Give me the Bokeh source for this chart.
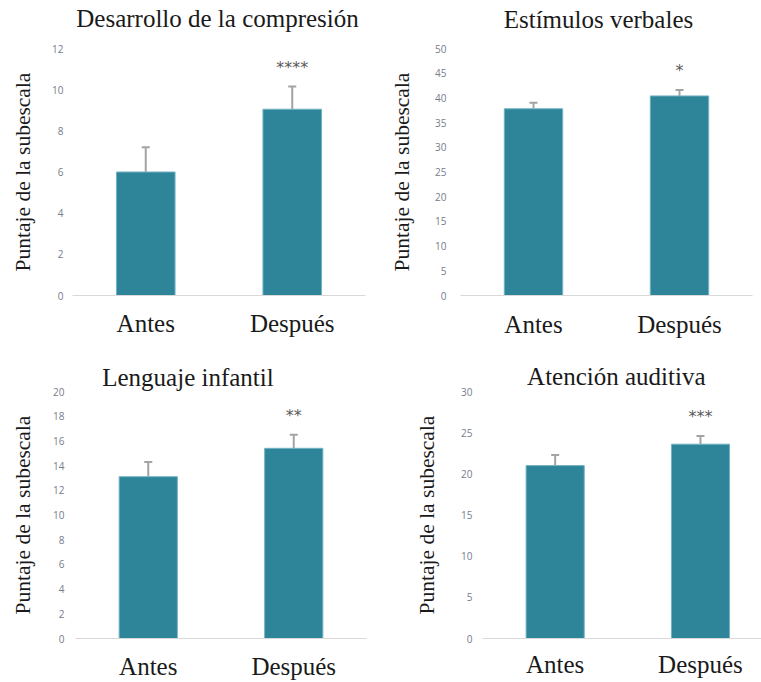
from bokeh.plotting import figure
from bokeh.layouts import column, row
from bokeh.models import (ColumnDataSource, Whisker, TeeHead, FixedTicker,
                          Range1d, LinearAxis)
from bokeh.core.properties import value
from bokeh.embed import file_html
from bokeh.resources import INLINE

# ---------------- data ----------------
categories = ["Antes", "Después"]

titles = ["Desarrollo de la compresión", "Estímulos verbales",
          "Lenguaje infantil", "Atención auditiva"]

means_comprension = [6.0, 9.05]
errors_comprension = [1.2, 1.1]

means_estimulos = [37.8, 40.4]
errors_estimulos = [1.2, 1.2]

means_lenguaje = [13.1, 15.4]
errors_lenguaje = [1.2, 1.1]

means_atencion = [21.0, 23.6]
errors_atencion = [1.3, 1.0]

significance = ["****", "*", "**", "***"]

yticks_comprension = [0, 2, 4, 6, 8, 10, 12]
yticks_estimulos = [0, 5, 10, 15, 20, 25, 30, 35, 40, 45, 50]
yticks_lenguaje = [0, 2, 4, 6, 8, 10, 12, 14, 16, 18, 20]
yticks_atencion = [0, 5, 10, 15, 20, 25, 30]

ylabel = "Puntaje de la subescala"

# ---------------- style ----------------
BAR = "#2e8498"
BAR_EDGE = "#72b3c4"
ERR = "#a3a3a3"
SERIF = "Liberation Serif"


def panel(title, means, errors, stars, yticks, width, height, borders, xend,
          title_x, title_standoff, ylab_standoff, tick_standoff, xlab_standoff):
    left, right, top, bottom = borders
    xs = [i + 1 for i in range(len(categories))]
    p = figure(width=width, height=height, output_backend="svg",
               toolbar_location=None, tools="",
               x_range=Range1d(0.5, xend), y_range=Range1d(yticks[0], yticks[-1]),
               min_border_left=left, min_border_right=right,
               min_border_top=top, min_border_bottom=bottom)
    p.outline_line_color = None
    p.background_fill_color = "white"
    p.border_fill_color = "white"
    p.xgrid.grid_line_color = None
    p.ygrid.grid_line_color = None

    upper = [m + e for m, e in zip(means, errors)]
    src = ColumnDataSource(dict(x=xs, mean=means, upper=upper,
                                stars=["", stars]))
    p.vbar(x="x", top="mean", bottom=0, width=0.4, source=src,
           fill_color=BAR, line_color=BAR_EDGE, line_width=1)
    w = Whisker(base="x", lower="mean", upper="upper", source=src,
                line_color=ERR, line_width=2, level="glyph",
                upper_head=TeeHead(size=8, line_color=ERR, line_width=2),
                lower_head=None)
    p.add_layout(w)
    p.text(x="x", y="upper", text="stars", source=src, y_offset=-19,
           text_align="center", text_baseline="middle",
           text_font=value("DejaVu Sans"), text_font_size="16px",
           text_color="#5a5a5a")

    # x axis (below)
    xa = p.below[0]
    xa.ticker = FixedTicker(ticks=xs)
    xa.major_label_overrides = {x: c for x, c in zip(xs, categories)}
    xa.major_label_text_font = SERIF
    xa.major_label_text_font_size = "25px"
    xa.major_label_text_color = "#1a1a1a"
    xa.axis_line_color = "#d9d9d9"
    xa.axis_line_width = 1
    xa.major_tick_line_color = None
    xa.minor_tick_line_color = None
    xa.major_tick_out = 0
    xa.major_tick_in = 0
    xa.minor_tick_out = 0
    xa.major_label_standoff = xlab_standoff

    # y axis
    ya = p.left[0]
    ya.ticker = FixedTicker(ticks=yticks)
    ya.axis_line_color = None
    ya.major_tick_line_color = None
    ya.minor_tick_line_color = None
    ya.major_tick_out = 0
    ya.major_tick_in = 0
    ya.minor_tick_out = 0
    ya.major_label_text_font = "Open Sans"
    ya.major_label_text_font_size = "10px"
    ya.major_label_text_color = "#767c8a"
    ya.major_label_standoff = tick_standoff
    ya.axis_label = ylabel
    ya.axis_label_text_font = SERIF
    ya.axis_label_text_font_size = "21.5px"
    ya.axis_label_text_font_style = "normal"
    ya.axis_label_text_color = "#1a1a1a"
    ya.axis_label_standoff = ylab_standoff

    # title: a label-only axis above the frame
    ta = LinearAxis(ticker=FixedTicker(ticks=[title_x]),
                    major_label_overrides={title_x: title})
    ta.axis_line_color = None
    ta.major_tick_line_color = None
    ta.minor_tick_line_color = None
    ta.major_tick_out = 0
    ta.major_tick_in = 0
    ta.minor_tick_out = 0
    ta.major_label_standoff = title_standoff
    ta.major_label_text_font = SERIF
    ta.major_label_text_font_size = "25px"
    ta.major_label_text_color = "#1a1a1a"
    p.add_layout(ta, "above")
    return p


p1 = panel(titles[0], means_comprension, errors_comprension, significance[0],
           yticks_comprension, 380, 340, (72, 15, 48, 43), 2.5,
           1.49, 17, 14, 9, 14)
p2 = panel(titles[1], means_estimulos, errors_estimulos, significance[1],
           yticks_estimulos, 381, 340, (80, 9, 47, 44), 2.5,
           1.445, 16, 18, 14, 15)
p3 = panel(titles[2], means_lenguaje, errors_lenguaje, significance[2],
           yticks_lenguaje, 380, 342, (75, 14, 49, 43), 2.5,
           1.273, 1, 15, 11, 14)
p4 = panel(titles[3], means_atencion, errors_atencion, significance[3],
           yticks_atencion, 381, 342, (102, 0, 51, 41), 2.42,
           1.421, 2, 19, 10, 12)

layout = column(row(p1, p2), row(p3, p4))

with open("out.html", "w") as f:
    f.write(file_html(layout, INLINE))
